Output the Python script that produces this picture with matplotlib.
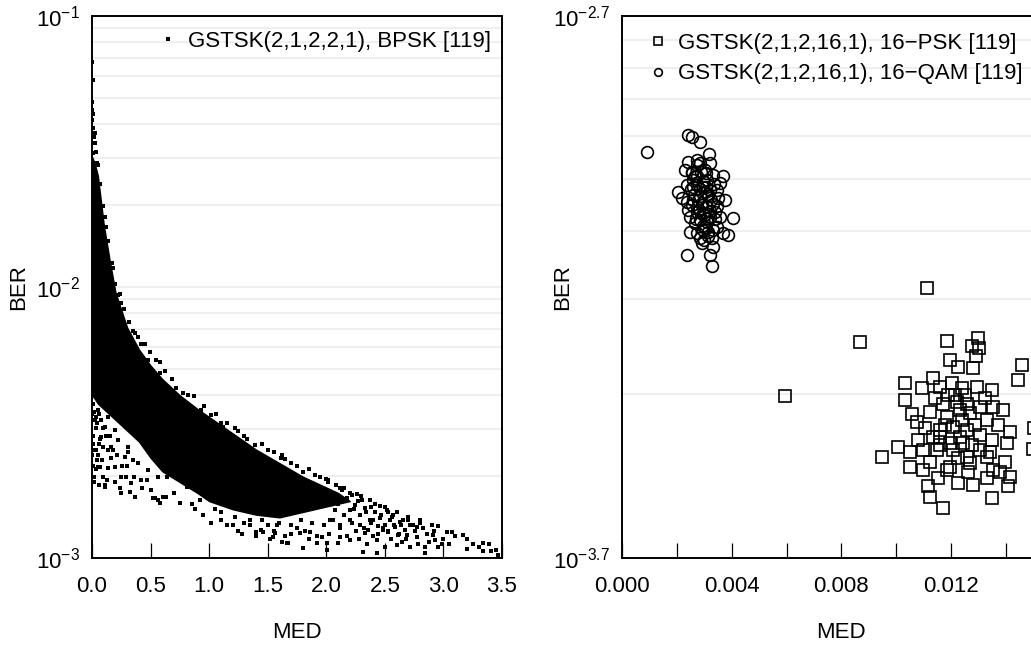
import numpy as np
import matplotlib
matplotlib.use('Agg')
import matplotlib.pyplot as plt

plt.rcParams['font.family'] = ['Liberation Sans', 'DejaVu Sans']
plt.rcParams['mathtext.fontset'] = 'custom'
plt.rcParams['mathtext.rm'] = 'Liberation Sans'
plt.rcParams['mathtext.it'] = 'Liberation Sans:italic'
plt.rcParams['mathtext.bf'] = 'Liberation Sans:bold'

FS = 16

# ---- left panel: GSTSK(2,1,2,2,1), BPSK  (BER given as log10 exponent)
# dense core of the cloud, read as upper / lower envelope
core_med = [0, 0.02, 0.05, 0.1, 0.15, 0.2, 0.3, 0.4, 0.5, 0.6, 0.75, 0.9, 1.0, 1.2, 1.4, 1.6, 1.8, 2.0, 2.1, 2.2]
core_upper = [-1.52, -1.54, -1.59, -1.77, -1.90, -2.02, -2.15, -2.23, -2.29, -2.34, -2.40, -2.45, -2.48, -2.54, -2.60, -2.65, -2.70, -2.74, -2.76, -2.79]
core_lower = [-2.40, -2.41, -2.43, -2.45, -2.47, -2.49, -2.53, -2.57, -2.63, -2.68, -2.72, -2.76, -2.79, -2.82, -2.84, -2.85, -2.83, -2.81, -2.80, -2.79]

# single points outside / around the core
bpsk_med = [
    0.0, 0.0085, 0.0, 0.004, 0.0, 0.0085, 0.017, 0.023, 0.0085, 0.040, 0.026, 0.012,
    0.07, 0.12, 0.17, 0.20,
    0.236, 0.250, 0.350, 0.393, 0.450, 0.493, 0.478, 0.578, 0.578, 0.720, 0.777, 0.871,
    0.933, 1.018, 1.118, 1.389, 1.445, 1.616, 1.648, 1.804, 1.904, 2.017, 2.203, 2.459, 2.530,
    0.108, 0.250, 0.365, 0.506, 0.535, 0.578, 0.634, 0.749, 0.051, 0.137, 0.194, 0.094,
    0.250, 0.335, 0.421, 0.478, 0.563, 0.037, 0.165, 0.279, 0.393, 0.079, 0.222, 0.307,
    0.023, 0.108, 0.194, 0.051, 0.137, 1.018, 1.673, 1.445, 1.560, 0.040, 0.068, 0.125,
    0.111, 0.196, 0.239, 0.324, 0.523, 0.566, 0.609, 0.581, 0.467, 0.638, 0.808, 0.922,
    0.01, 0.0, 0.02, 0.06, 0.15, 0.30, 0.36, 0.43, 0.70, 0.85, 1.10, 1.20, 1.30, 0.0, 0.03,
    1.25, 1.35, 1.52, 1.70, 1.85, 1.58, 1.75,
    2.017, 2.260, 2.373, 2.516, 2.572, 2.658, 2.743, 2.772, 2.828, 2.956, 3.028, 3.071,
    3.170, 3.340, 3.392, 3.199, 3.340, 3.404, 3.468, 1.662, 1.804, 1.918, 2.009, 2.009,
    2.103, 2.316, 2.430, 2.430, 2.601, 2.715, 2.843, 2.843, 2.928, 2.985, 1.548, 1.462,
    1.400, 1.776, 1.861, 1.961, 2.117, 2.202, 2.330, 2.687, 2.772, 2.914, 2.487,
    2.160, 2.203, 2.245, 2.288, 2.331, 2.373, 2.416, 2.459, 2.501, 2.544, 2.587, 2.629,
    2.672, 2.715, 2.203, 2.288, 2.356, 2.442, 2.527, 2.612, 2.134, 2.220, 2.305, 2.074,
    2.117, 2.032,
    # lower-left cluster
    0.005, 0.015, 0.03, 0.045, 0.06, 0.075, 0.09, 0.01, 0.025, 0.055, 0.07, 0.09, 0.12,
    0.14, 0.005, 0.03, 0.085, 0.16, 0.18, 0.21, 0.26, 0.29, 0.31, 0.35, 0.015, 0.06,
    # ragged upper edge
    0.03, 0.05, 0.09, 0.11, 0.14, 0.18, 0.22, 0.27, 0.32, 0.37, 0.42, 0.55, 0.62, 0.68,
    0.82, 0.96, 1.06, 1.15, 1.25, 1.32, 1.50, 1.70, 1.95, 2.08, 2.15,
    1.10, 1.22, 1.30, 1.45, 1.55, 1.62, 1.75, 1.85, 2.00, 2.12, 2.30, 2.42, 2.60, 2.70,
    2.80, 2.90,
    # tail
    2.05, 2.10, 2.15, 2.18, 2.24, 2.27, 2.34, 2.38, 2.40, 2.47, 2.50, 2.56, 2.60, 2.64,
    2.70, 2.76, 2.80, 2.86, 2.92, 3.00, 3.10, 3.25, 2.25, 2.40, 2.55, 2.50, 2.65, 2.35,
    # below the band
    0.95, 1.05, 1.15, 1.40, 1.62, 0.88, 1.28,
    1.50, 1.55, 1.60, 1.65, 1.70, 1.78, 1.82, 1.88, 1.92, 1.98, 2.02, 2.06, 2.12, 2.18,
    2.22, 2.28, 2.32, 2.38, 2.44, 2.48, 2.53, 2.58, 2.62, 2.68, 1.45, 1.35, 1.22, 1.10,
    2.95, 3.05, 3.20, 3.30, 3.45, 2.78, 2.88,
]
bpsk_ber_exp = [
    -1.169, -1.236, -1.316, -1.347, -1.384, -1.413, -1.445, -1.469, -1.506, -1.542, -1.43, -1.36,
    -1.62, -1.78, -1.91, -1.99,
    -2.026, -2.060, -2.161, -2.186, -2.210, -2.239, -2.269, -2.278, -2.318, -2.372, -2.392, -2.401,
    -2.454, -2.472, -2.515, -2.583, -2.620, -2.632, -2.636, -2.682, -2.694, -2.718, -2.761, -2.808, -2.829,
    -2.737, -2.761, -2.774, -2.749, -2.780, -2.798, -2.774, -2.798, -2.663, -2.669, -2.663, -2.700,
    -2.700, -2.724, -2.712, -2.675, -2.700, -2.601, -2.589, -2.626, -2.651, -2.552, -2.565, -2.589,
    -2.491, -2.515, -2.528, -2.454, -2.479, -2.872, -2.946, -2.897, -2.909, -2.638, -2.663, -2.712,
    -2.731, -2.718, -2.743, -2.755, -2.780, -2.786, -2.774, -2.798, -2.712, -2.700, -2.737, -2.786,
    -2.55, -2.62, -2.70, -2.58, -2.55, -2.66, -2.70, -2.74, -2.76, -2.80, -2.86, -2.88, -2.87, -2.47, -2.52,
    -2.90, -2.88, -2.93, -2.91, -2.93, -2.88, -2.89,
    -2.712, -2.764, -2.786, -2.823, -2.841, -2.860, -2.878, -2.885, -2.890, -2.882, -2.903, -2.903,
    -2.915, -2.944, -2.948, -2.968, -2.973, -2.973, -2.989, -2.944, -2.962, -2.944, -2.946, -2.970,
    -2.946, -2.977, -2.934, -2.983, -2.952, -2.958, -2.980, -2.958, -2.934, -2.948, -2.921, -2.903,
    -2.903, -2.909, -2.903, -2.921, -2.921, -2.934, -2.909, -2.915, -2.921, -2.915, -2.897,
    -2.786, -2.823, -2.804, -2.841, -2.815, -2.860, -2.830, -2.852, -2.878, -2.860, -2.886, -2.867,
    -2.897, -2.878, -2.860, -2.878, -2.897, -2.882, -2.904, -2.915, -2.749, -2.768, -2.786, -2.823,
    -2.878, -2.860,
    -2.43, -2.46, -2.48, -2.50, -2.47, -2.49, -2.52, -2.58, -2.60, -2.62, -2.56, -2.59, -2.55,
    -2.60, -2.66, -2.67, -2.64, -2.63, -2.60, -2.62, -2.66, -2.70, -2.61, -2.64, -2.72, -2.73,
    -1.50, -1.55, -1.70, -1.74, -1.83, -1.93, -2.03, -2.08, -2.13, -2.17, -2.21, -2.27, -2.31, -2.34,
    -2.40, -2.44, -2.47, -2.50, -2.53, -2.56, -2.60, -2.65, -2.70, -2.73, -2.74,
    -2.50, -2.52, -2.55, -2.58, -2.61, -2.62, -2.66, -2.67, -2.71, -2.74, -2.77, -2.80, -2.83, -2.85,
    -2.86, -2.88,
    -2.76, -2.80, -2.84, -2.78, -2.82, -2.79, -2.83, -2.81, -2.86, -2.84, -2.81, -2.85, -2.83, -2.88,
    -2.86, -2.90, -2.87, -2.91, -2.90, -2.93, -2.92, -2.95, -2.90, -2.92, -2.93, -2.96, -2.94, -2.95,
    -2.84, -2.82, -2.88, -2.92, -2.94, -2.82, -2.91,
    -2.88, -2.90, -2.87, -2.92, -2.88, -2.86, -2.90, -2.87, -2.92, -2.88, -2.91, -2.86, -2.89, -2.92,
    -2.87, -2.93, -2.89, -2.87, -2.91, -2.89, -2.90, -2.88, -2.91, -2.93, -2.86, -2.86, -2.85, -2.83,
    -2.96, -2.95, -2.93, -2.96, -2.97, -2.95, -2.94,
]

# ---- right panel: GSTSK(2,1,2,16,1) with 16-PSK and 16-QAM
qam_med = [
    0.000901, 0.002417, 0.002541, 0.002844, 0.003183, 0.002417, 0.002724, 0.003209, 0.002297,
    0.002541, 0.003026, 0.003329, 0.003693, 0.003573, 0.002053, 0.002177, 0.002359, 0.003756,
    0.002479, 0.002844, 0.003573, 0.004036, 0.002724, 0.003026, 0.003453, 0.003693, 0.003876,
    0.002906, 0.003329, 0.002359, 0.003209, 0.003270, 0.002600, 0.002964, 0.003209, 0.002724,
    0.003088, 0.003329, 0.002964, 0.002600, 0.002844, 0.003147, 0.003453, 0.002417, 0.002662,
    0.003209, 0.002844, 0.002724, 0.003088, 0.002771, 0.002917, 0.003026, 0.002625, 0.002953,
    0.003136, 0.002479, 0.003391, 0.003282, 0.002735, 0.003099, 0.002552, 0.002880, 0.003500,
    0.002370, 0.002990,
    0.00265, 0.00275, 0.00285, 0.00295, 0.00305, 0.00315, 0.00325, 0.00290, 0.00280, 0.00300,
    0.00310, 0.00320, 0.00270, 0.00260, 0.00250, 0.00335, 0.00340, 0.00330, 0.00295, 0.00285,
    0.00305, 0.00275, 0.00255, 0.00345, 0.00315,
]
qam_ber_exp = [
    -2.950, -2.920, -2.924, -2.933, -2.955, -2.969, -2.966, -2.972, -2.984,
    -2.987, -2.984, -2.993, -2.996, -3.009, -3.024, -3.036, -3.043, -3.039,
    -3.070, -3.076, -3.070, -3.073, -3.101, -3.089, -3.089, -3.101, -3.104,
    -3.119, -3.126, -3.141, -3.141, -3.161, -3.015, -3.015, -3.021, -3.052,
    -3.052, -3.046, -3.064, -3.003, -3.033, -3.033, -3.021, -3.058, -3.082,
    -3.070, -2.972, -2.996, -3.003, -3.039, -3.049, -3.025, -3.030, -3.088,
    -3.099, -3.099, -3.062, -3.110, -3.062, -3.073, -3.049, -2.988, -3.036,
    -3.012, -3.113,
    -2.995, -3.012, -3.020, -3.005, -3.015, -3.028, -3.040, -3.045, -3.058, -3.068,
    -3.080, -3.060, -3.075, -3.040, -3.020, -3.010, -3.075, -3.095, -3.095, -3.110,
    -2.990, -2.975, -2.990, -3.050, -3.105,
]
psk_med = [
    0.011132, 0.008678, 0.005943, 0.011839, 0.012750, 0.012991, 0.013027, 0.012907, 0.011959,
    0.012262, 0.012808, 0.014573, 0.014438, 0.010318, 0.011350, 0.010927, 0.011594, 0.012932,
    0.013479, 0.010318, 0.010563, 0.010745, 0.011230, 0.011715, 0.012203, 0.012568, 0.013053,
    0.013538, 0.013902, 0.015022, 0.014985, 0.014146, 0.014026, 0.013479, 0.013053, 0.012568,
    0.012079, 0.011594, 0.011350, 0.010985, 0.010500, 0.010074, 0.009469, 0.010500, 0.011230,
    0.012079, 0.012568, 0.013053, 0.013297, 0.013964, 0.013782, 0.014146, 0.014085, 0.013297,
    0.012808, 0.012262, 0.011532, 0.011168, 0.011230, 0.013479, 0.011715, 0.011959, 0.012323,
    0.012688, 0.011839, 0.012323, 0.013297, 0.011594, 0.011959, 0.012444, 0.012688, 0.011839,
    0.010985, 0.013538, 0.011474, 0.012141, 0.012506, 0.011886, 0.011412, 0.012396, 0.012870,
    0.011777, 0.012251, 0.010792, 0.011047, 0.013709, 0.013417, 0.012615, 0.012032, 0.012396,
    0.013235, 0.011594, 0.012761,
]
psk_ber_exp = [
    -3.202, -3.301, -3.402, -3.300, -3.309, -3.295, -3.312, -3.327, -3.335,
    -3.347, -3.350, -3.343, -3.372, -3.378, -3.367, -3.387, -3.384, -3.384,
    -3.390, -3.409, -3.434, -3.449, -3.430, -3.415, -3.412, -3.415, -3.421,
    -3.421, -3.427, -3.461, -3.498, -3.467, -3.488, -3.482, -3.473, -3.464,
    -3.458, -3.464, -3.476, -3.501, -3.504, -3.495, -3.513, -3.532, -3.522,
    -3.501, -3.513, -3.501, -3.513, -3.522, -3.541, -3.550, -3.568, -3.553,
    -3.565, -3.562, -3.553, -3.568, -3.587, -3.590, -3.608, -3.532, -3.476,
    -3.433, -3.439, -3.427, -3.445, -3.476, -3.488, -3.488, -3.525, -3.538,
    -3.538, -3.538, -3.501, -3.399, -3.399, -3.399, -3.405, -3.445, -3.455,
    -3.455, -3.516, -3.482, -3.460, -3.455, -3.504, -3.541, -3.377, -3.386,
    -3.405, -3.492, -3.492,
]

left_xticks = [0.0, 0.5, 1.0, 1.5, 2.0, 2.5, 3.0, 3.5]
left_yticks = [1e-3, 1e-2, 1e-1]
left_ylabels = [r'$10^{-3}$', r'$10^{-2}$', r'$10^{-1}$']
right_xticks = [0.000, 0.004, 0.008, 0.012]
right_xminor = [0.002, 0.006, 0.010, 0.014, 0.016]
right_yticks = [10 ** -3.7, 10 ** -2.7]
right_ylabels = [r'$10^{-3.7}$', r'$10^{-2.7}$']
left_grid = [k * 10.0 ** e for e in (-3, -2) for k in range(2, 10)] + [1e-2]
right_grid = [4e-4, 6e-4, 8e-4, 1e-3, 1.2e-3, 1.4e-3, 1.6e-3, 1.8e-3]

W, H = 1031, 646
fig = plt.figure(figsize=(W / 100, H / 100), dpi=100)
ax1 = fig.add_axes([92 / W, 88 / H, 410 / W, 542 / H])
ax2 = fig.add_axes([622 / W, 88 / H, 438.8 / W, 542 / H])


def style(ax):
    for s in ax.spines.values():
        s.set_linewidth(1.4)
    ax.tick_params(axis='x', which='both', direction='in', length=11, width=0.9,
                   labelsize=FS, pad=13, top=False)
    ax.tick_params(axis='y', which='both', length=0, labelsize=FS, pad=9, right=False)
    ax.set_yscale('log')
    ax.minorticks_off()


# left
style(ax1)
for g in left_grid:
    ax1.axhline(g, color='#eeeeee', lw=1.3, zorder=0)
ax1.fill_between(core_med, 10.0 ** np.array(core_lower), 10.0 ** np.array(core_upper),
                 facecolor='black', edgecolor='black', lw=1.0, zorder=2)
ax1.plot(bpsk_med, 10.0 ** np.array(bpsk_ber_exp), ls='none', marker='s', ms=2.9,
         mew=0, color='black', zorder=3, label='GSTSK(2,1,2,2,1), BPSK [119]')
ax1.set_xlim(0, 3.5)
ax1.set_ylim(1e-3, 1e-1)
ax1.set_xticks(left_xticks)
ax1.set_xticklabels([f'{v:.1f}' for v in left_xticks])
ax1.set_yticks(left_yticks)
ax1.set_yticklabels(left_ylabels)
ax1.minorticks_off()
ax1.set_xlabel('MED', fontsize=FS)
ax1.set_ylabel('BER', fontsize=FS)
ax1.xaxis.set_label_coords(0.5, -0.118)
ax1.yaxis.set_label_coords(-0.153, 0.5)
ax1.legend(loc='upper right', bbox_to_anchor=(0.995, 0.989), frameon=False, fontsize=FS,
           borderaxespad=0, borderpad=0.4, handlelength=1.0, handletextpad=0.4, markerscale=1.2)

# right
style(ax2)
for g in right_grid:
    ax2.axhline(g, color='#eeeeee', lw=1.3, zorder=0)
ax2.plot(psk_med, 10.0 ** np.array(psk_ber_exp), ls='none', marker='s', ms=8.3, mfc='none',
         mec='black', mew=1.2, zorder=3, label='GSTSK(2,1,2,16,1), 16\u2212PSK [119]')
ax2.plot(qam_med, 10.0 ** np.array(qam_ber_exp), ls='none', marker='o', ms=8.5, mfc='none',
         mec='black', mew=1.2, zorder=3, label='GSTSK(2,1,2,16,1), 16\u2212QAM [119]')
ax2.set_xlim(0, 0.016)
ax2.set_ylim(10 ** -3.7, 10 ** -2.7)
ax2.set_xticks(right_xticks)
ax2.set_xticklabels([f'{v:.3f}' for v in right_xticks])
ax2.set_xticks(right_xminor, minor=True)
ax2.set_yticks(right_yticks)
ax2.set_yticklabels(right_ylabels)
ax2.yaxis.set_minor_locator(matplotlib.ticker.NullLocator())
ax2.set_xlabel('MED', fontsize=FS)
ax2.set_ylabel('BER', fontsize=FS)
ax2.xaxis.set_label_coords(0.5, -0.118)
ax2.yaxis.set_label_coords(-0.112, 0.5)
ax2.legend(loc='upper left', bbox_to_anchor=(0.0365, 0.985), frameon=False, fontsize=FS,
           borderaxespad=0, borderpad=0.4, handlelength=1.0, handletextpad=0.4,
           labelspacing=0.42, markerscale=0.65)

fig.savefig('out.png', dpi=100)
